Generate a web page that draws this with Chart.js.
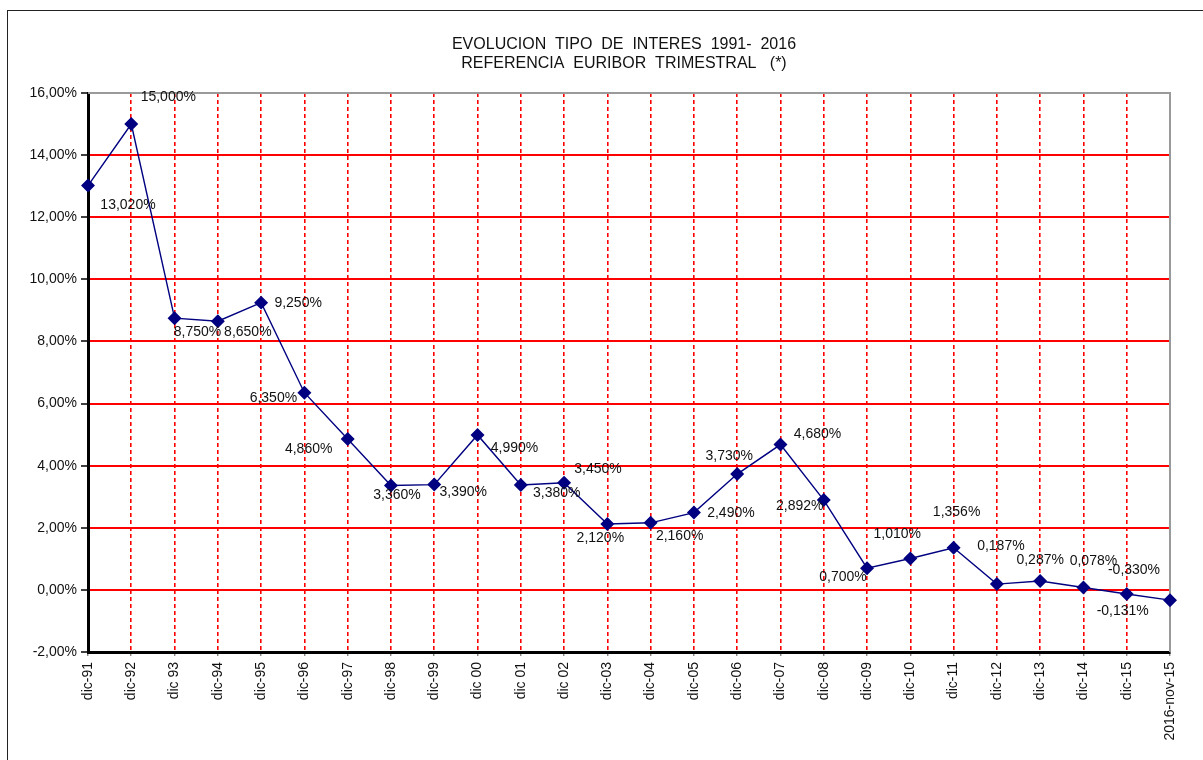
<!DOCTYPE html>
<html>
<head>
<meta charset="utf-8">
<script src="https://cdn.jsdelivr.net/npm/chart.js@4"></script>
<style>
  html, body { margin: 0; padding: 0; background: #fff; overflow: hidden; }
  #frame {
    position: absolute; left: 7px; top: 10px;
    width: 1220px; height: 800px;
    border: 1px solid #222; box-sizing: border-box;
  }
  #wrap { position: absolute; left: 0; top: 0; width: 1203px; height: 760px; }
</style>
</head>
<body>
<div id="frame"></div>
<div id="wrap"><canvas id="chart" width="1203" height="760"></canvas></div>
<script>
// Categories (end of each year, last one is Nov 2016)
const labels = [
  "dic-91", "dic-92", "dic 93", "dic-94", "dic-95", "dic-96", "dic-97",
  "dic-98", "dic-99", "dic 00", "dic 01", "dic 02", "dic-03", "dic-04",
  "dic-05", "dic-06", "dic-07", "dic-08", "dic-09", "dic-10", "dic-11",
  "dic-12", "dic-13", "dic-14", "dic-15", "2016-nov-15"
];

// Euribor 3M rate, %
const rates = [
  13.020, 15.000, 8.750, 8.650, 9.250, 6.350, 4.860,
  3.360, 3.390, 4.990, 3.380, 3.450, 2.120, 2.160,
  2.490, 3.730, 4.680, 2.892, 0.700, 1.010, 1.356,
  0.187, 0.287, 0.078, -0.131, -0.330
];

// y axis range and step
const yMin = -2;
const yMax = 16;
const yStep = 2;

// where each value label sits relative to its point (px)
const labelOffsets = [
  [40, 20], [37, -27], [23, 14], [30, 11], [37, 1], [-31, 5], [-39, 10],
  [6, 10], [29, 8], [37, 13], [36, 8], [34, -14], [-7, 14], [29, 13],
  [37, 1], [-8, -18], [37, -10], [-24, 6], [-24, 9], [-13, -24], [3, -36],
  [4, -38], [0, -21], [10, -26], [-4, 17], [-36, -30]
];

const FONT = "'Liberation Sans', Arial, sans-serif";
const fmt = (v, d) => v.toFixed(d).replace(".", ",") + "%";

// Gray top/right edges of the plot, drawn under the line
const plotEdges = {
  id: "plotEdges",
  beforeDatasetsDraw(chart) {
    const { ctx, chartArea } = chart;
    ctx.save();
    ctx.strokeStyle = "#9a9a9a";
    ctx.lineWidth = 2;
    ctx.beginPath();
    ctx.moveTo(chartArea.left, chartArea.top);
    ctx.lineTo(chartArea.right, chartArea.top);
    ctx.lineTo(chartArea.right, chartArea.bottom);
    ctx.stroke();
    ctx.restore();
  }
};

// Title and value labels
const texts = {
  id: "texts",
  afterDraw(chart) {
    const { ctx } = chart;
    ctx.save();
    ctx.fillStyle = "#111";
    ctx.textAlign = "center";
    ctx.textBaseline = "middle";
    ctx.font = "16px " + FONT;
    const cx = 624;
    ctx.fillText("EVOLUCION  TIPO  DE  INTERES  1991-  2016", cx, 45);
    ctx.fillText("REFERENCIA  EURIBOR  TRIMESTRAL   (*)", cx, 64);

    ctx.font = "14px " + FONT;
    const meta = chart.getDatasetMeta(0);
    meta.data.forEach((pt, i) => {
      const [dx, dy] = labelOffsets[i];
      ctx.fillText(fmt(rates[i], 3), pt.x + dx, pt.y + dy);
    });
    ctx.restore();
  }
};

const ctx = document.getElementById("chart").getContext("2d");

new Chart(ctx, {
  type: "line",
  data: {
    labels: labels,
    datasets: [
      {
        data: rates,
        borderColor: "#000080",
        borderWidth: 1.4,
        pointStyle: "rectRot",
        pointRadius: 6,
        pointBackgroundColor: "#000080",
        pointBorderColor: "#000080",
        tension: 0,
        clip: false
      }
    ]
  },
  options: {
    responsive: false,
    animation: false,
    devicePixelRatio: 1,
    layout: { padding: { left: 0, top: 93, right: 33, bottom: 0 } },
    plugins: {
      legend: { display: false },
      title: { display: false },
      tooltip: { enabled: false }
    },
    scales: {
      x: {
        offset: false,
        afterFit: (scale) => { scale.height = 108; },
        grid: {
          color: (c) => (c.index === labels.length - 1 ? "rgba(0,0,0,0)" : "#ff0000"),
          lineWidth: 1.6,
          drawTicks: true,
          tickLength: 4,
          tickColor: "#555",
          tickWidth: 1,
          tickBorderDash: []
        },
        border: { display: true, color: "#000", width: 3, dash: [4, 3] },
        ticks: {
          autoSkip: false,
          maxRotation: 90,
          minRotation: 90,
          padding: 6,
          color: "#111",
          font: { family: FONT, size: 14 }
        }
      },
      y: {
        min: yMin,
        max: yMax,
        afterFit: (scale) => { scale.width = 88; },
        grid: {
          color: (c) => (c.tick && c.tick.value === yMax ? "rgba(0,0,0,0)" : "#ff0000"),
          lineWidth: 2,
          tickLength: 7,
          tickColor: "#000",
          tickWidth: 1.5
        },
        border: { display: true, color: "#000", width: 3 },
        ticks: {
          stepSize: yStep,
          padding: 4,
          color: "#111",
          font: { family: FONT, size: 14 },
          callback: (v) => fmt(v, 2)
        }
      }
    }
  },
  plugins: [plotEdges, texts]
});
</script>
</body>
</html>
